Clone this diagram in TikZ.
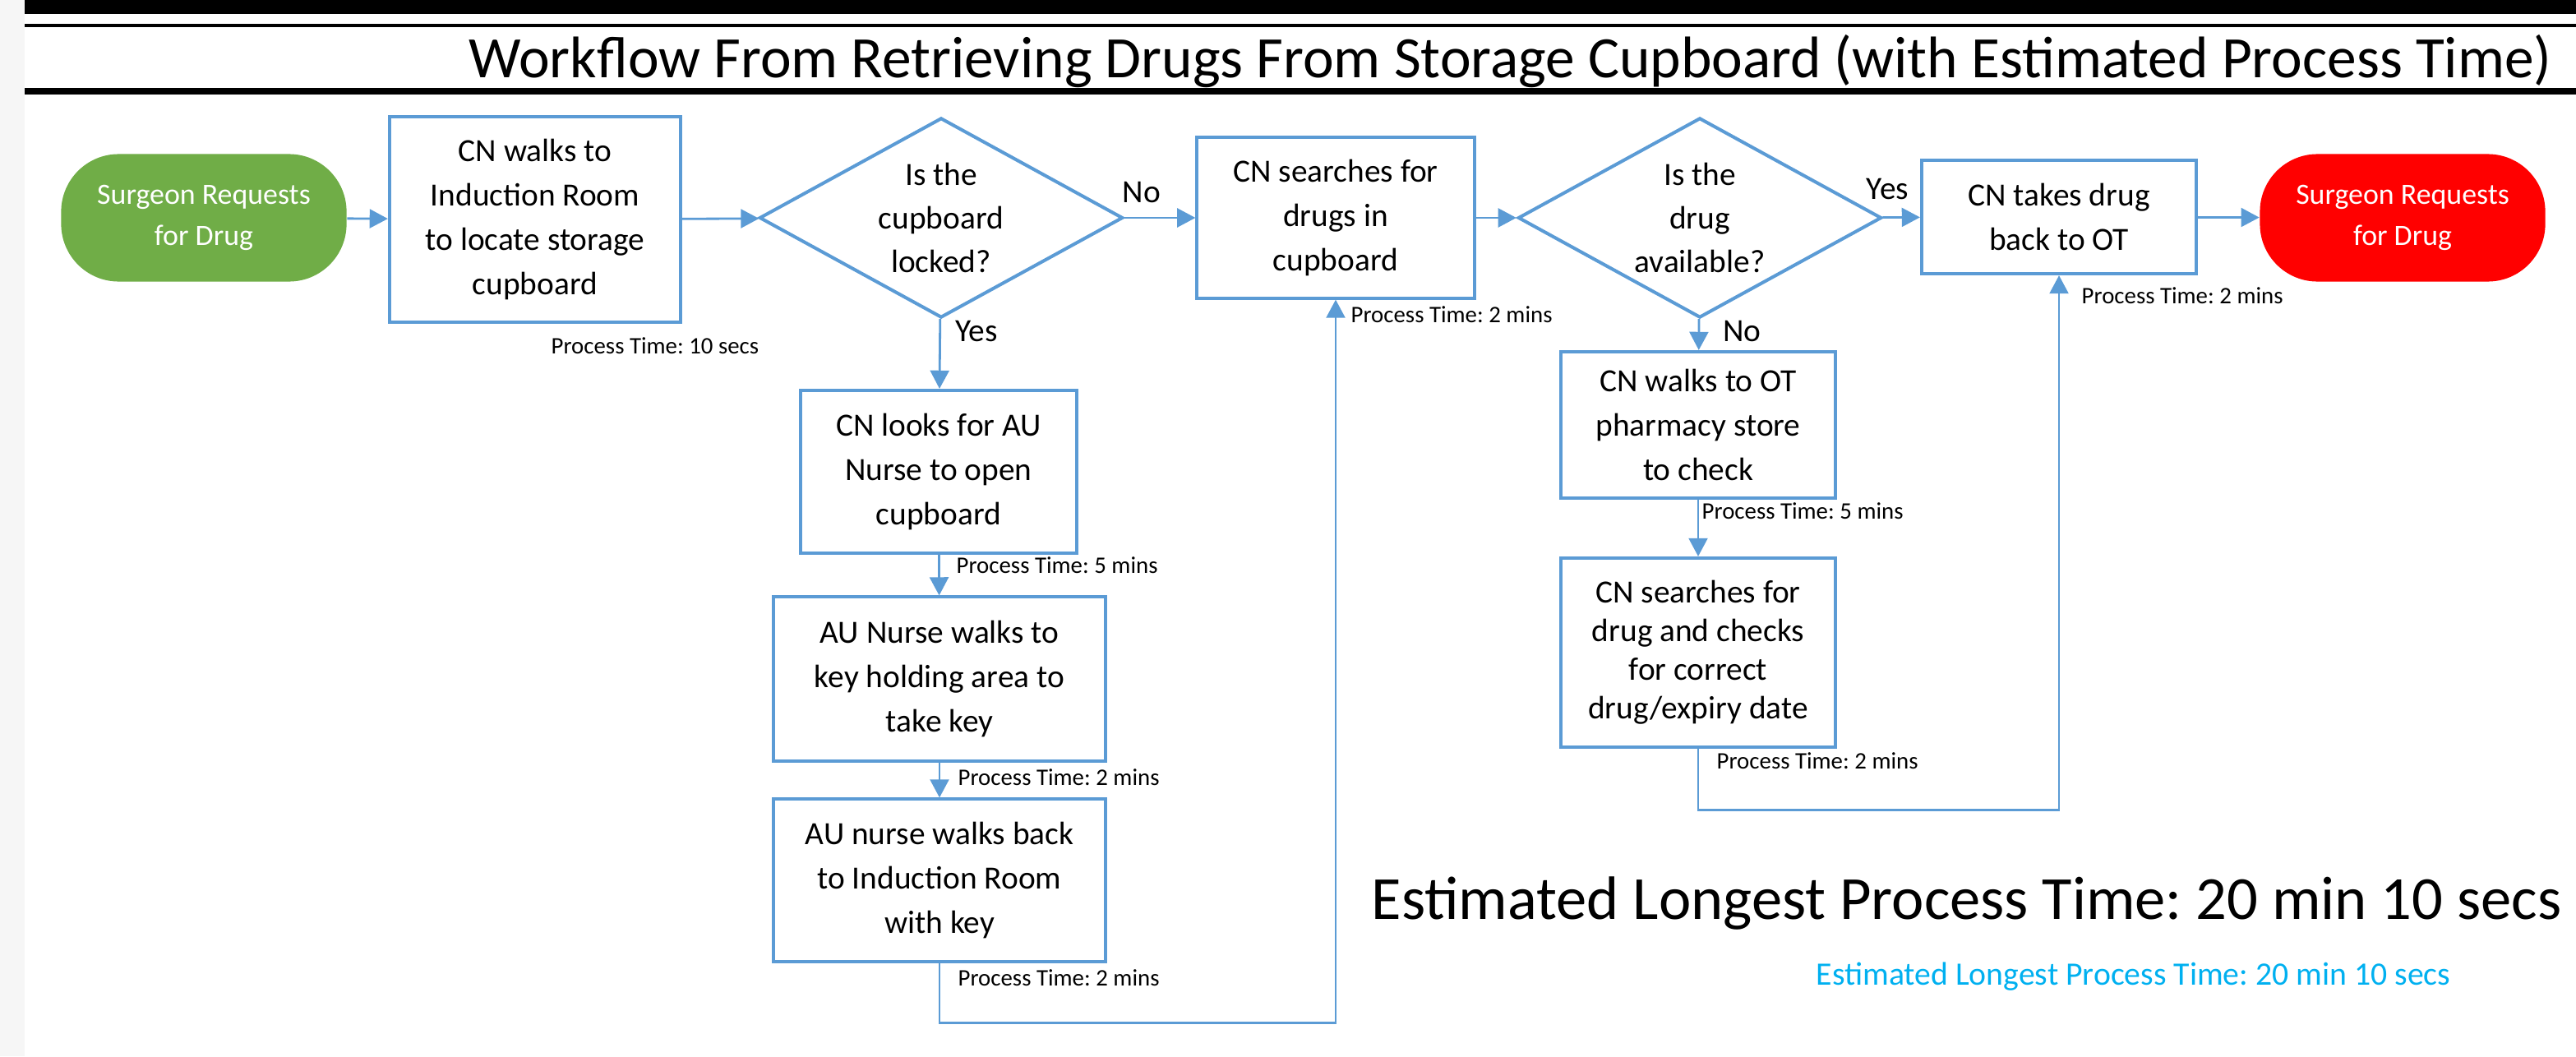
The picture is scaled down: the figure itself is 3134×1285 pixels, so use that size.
\documentclass[tikz,border=0pt]{standalone}
\usepackage{fontspec}
\setmainfont{Carlito}
\usetikzlibrary{arrows.meta}
\usetikzlibrary{positioning, calc}
\usetikzlibrary{shapes.geometric}
\frenchspacing

\definecolor{flowblue}{HTML}{5B9BD5}
\definecolor{startgreen}{HTML}{70AD47}
\definecolor{stopred}{HTML}{FF0000}
\definecolor{noteblue}{HTML}{00B0F0}

\begin{document}
\begin{tikzpicture}[
    x=0.01cm, y=-0.01cm,
    block/.style={draw=flowblue, line width=1.15pt, align=center, inner sep=0pt, font=\fontsize{11.2}{15.4}\selectfont},
    decision/.style={draw=flowblue, line width=1.15pt, diamond, inner sep=0pt, minimum width=4.42cm, minimum height=2.43cm},
    question/.style={align=center, inner sep=0pt, font=\fontsize{11.2}{15.1}\selectfont},
    terminal/.style={fill=#1, rounded corners=0.7cm, text=white, align=center, inner sep=0pt, minimum width=3.47cm, minimum height=1.55cm, font=\fontsize{10.2}{14.2}\selectfont},
    flow/.style={flowblue, line width=0.8pt, -{Triangle[length=6.3pt, width=6.5pt]}},
    answer/.style={text=black, inner sep=0pt, font=\fontsize{11.2}{13}\selectfont},
    pt/.style={anchor=west, inner sep=0pt, font=\fontsize{8.2}{10}\selectfont}
]
    \useasboundingbox (0,0) rectangle (3134,1285);

    % header bars
    \fill[gray!7] (0,0) rectangle (30,1285);
    \fill[black] (30,0) rectangle (3134,17);
    \fill[black] (30,29) rectangle (3134,33);
    \fill[black] (30,107) rectangle (3134,115);
    \node[anchor=base west, inner sep=0pt, font=\fontsize{20.3}{24}\selectfont] (title) at (570,95) {Workflow From Retrieving Drugs From Storage Cupboard (with Estimated Process Time)};

    % main row
    \node[terminal=startgreen] (start) at (248,265) {Surgeon Requests\\for Drug};
    \node[block, minimum width=3.54cm, minimum height=2.50cm] (walk) at (651,267) {CN walks to\\Induction Room\\to locate storage\\cupboard};
    \node[decision, label={[question]center:{Is the\\cupboard\\locked?}}] (locked) at (1145,265) {};
    \node[block, minimum width=3.37cm, minimum height=1.95cm] (search) at (1625,265) {CN searches for\\drugs in\\cupboard};
    \node[decision, label={[question]center:{Is the\\drug\\available?}}] (avail) at (2068,265) {};
    \node[block, minimum width=3.34cm, minimum height=1.38cm] (back) at (2505,264) {CN takes drug\\back to OT};
    \node[terminal=stopred] (stop) at (2923,265) {Surgeon Requests\\for Drug};

    % locked branch
    \node[block, minimum width=3.35cm, minimum height=1.98cm] (ask) at (1142,574) {CN looks for AU\\Nurse to open\\cupboard};
    \node[block, minimum width=4.04cm, minimum height=1.99cm] (fetch) at (1143,826) {AU Nurse walks to\\key holding area to\\take key};
    \node[block, minimum width=4.04cm, minimum height=1.97cm] (ret) at (1143,1071) {AU nurse walks back\\to Induction Room\\with key};

    % not available branch
    \node[block, minimum width=3.33cm, minimum height=1.78cm] (pharm) at (2066,517) {CN walks to OT\\pharmacy store\\to check};
    \node[block, minimum width=3.33cm, minimum height=2.30cm, font=\fontsize{11.2}{13.4}\selectfont] (check) at (2066,794) {CN searches for\\drug and checks\\for correct\\drug/expiry date};

    % connectors
    \draw[flow] (start) -- (walk);
    \draw[flow] (walk) -- (locked);
    \draw[flow] (locked) -- node[answer, pos=0.24, above=0.17cm] {No} (search);
    \draw[flow] (search) -- (avail);
    \draw[flow] (avail) -- node[answer, pos=0.14, above=0.2cm] {Yes} (back);
    \draw[flow] (back) -- (stop);
    \draw[flow] (locked) -- node[answer, pos=0, anchor=north west, xshift=0.17cm, yshift=-0.01cm] {Yes} (ask);
    \draw[flow] (ask) -- (fetch);
    \draw[flow] (fetch) -- (ret);
    \draw[flow] (ret.south) -- ++(0,73) -| (search.south);
    \draw[flow] (avail) -- node[answer, pos=0, anchor=north west, xshift=0.28cm, yshift=-0.01cm] {No} (pharm);
    \draw[flow] (pharm) -- (check);
    \draw[flow] (check.south) -- ++(0,74) -| (back.south);

    % process times
    \foreach \x/\y/\t [count=\i] in {670/421/10 secs, 1643/383/2 mins, 2532/360/2 mins, 1163/688/5 mins, 1165/946/2 mins, 1165/1190/2 mins, 2070/622/5 mins, 2088/926/2 mins} {
        \node[pt] (pt\i) at (\x,\y) {Process Time: \t};
    }

    \node[anchor=base west, inner sep=0pt, font=\fontsize{21.2}{25}\selectfont] (total) at (1668,1118) {Estimated Longest Process Time: 20 min 10 secs};
    \node[anchor=base west, inner sep=0pt, text=noteblue, font=\fontsize{11.3}{14}\selectfont] (totalnote) at (2209,1198) {Estimated Longest Process Time: 20 min 10 secs};
\end{tikzpicture}
\end{document}
